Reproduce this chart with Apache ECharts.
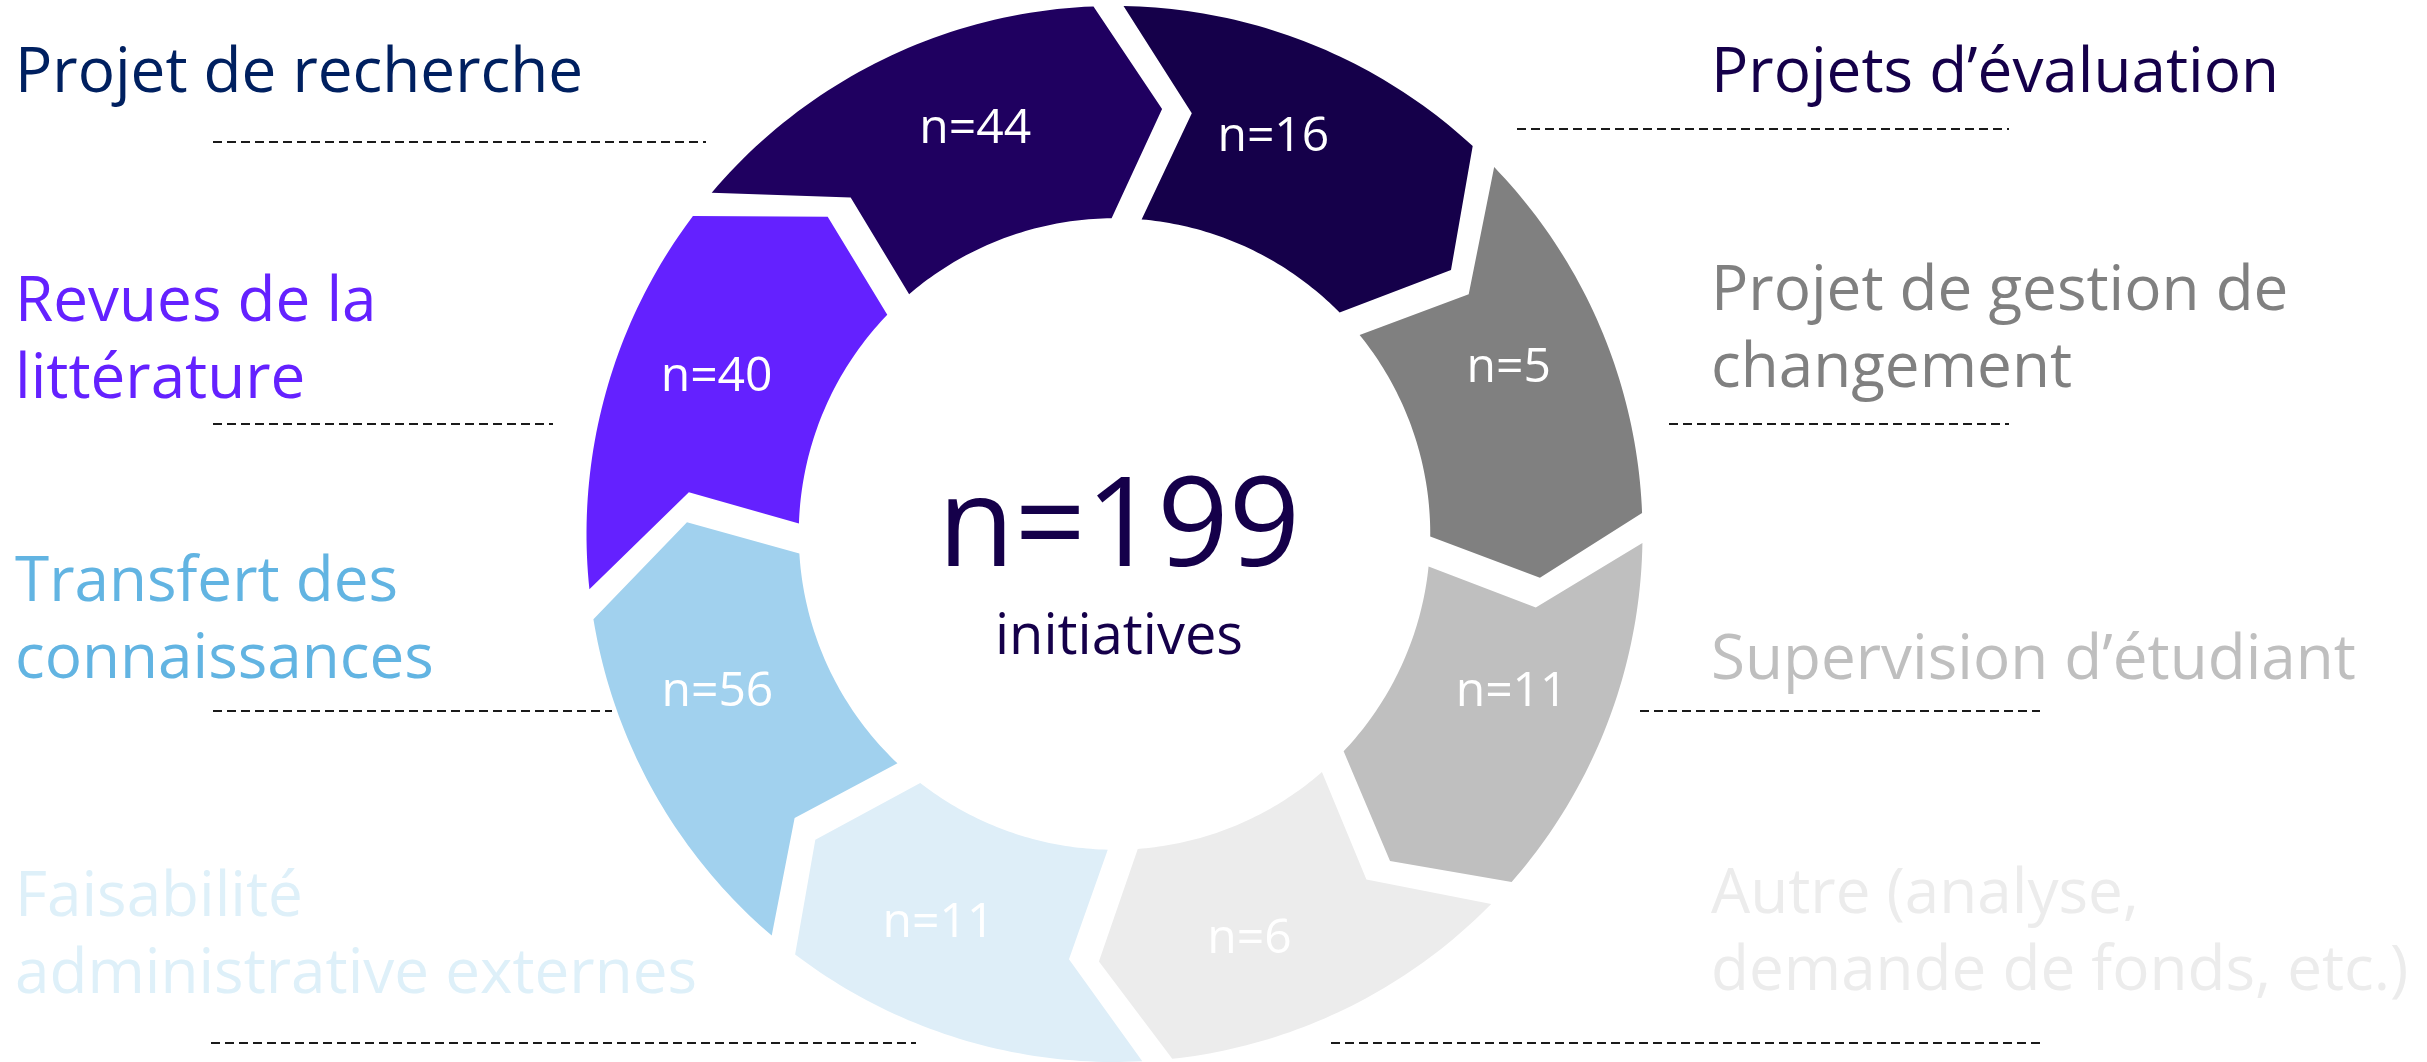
<!DOCTYPE html>
<html>
<head>
<meta charset="utf-8">
<script src="https://cdn.jsdelivr.net/npm/echarts@6/dist/echarts.min.js"></script>
<style>
  html, body { margin: 0; padding: 0; background: #fff; }
  #chart { width: 2427px; height: 1062px; }
</style>
</head>
<body>
<div id="chart"></div>
<script>
// 类别：从顶部开始顺时针
const categories = [
  'Projets d’évaluation',
  'Projet de gestion de\nchangement',
  'Supervision d’étudiant',
  'Autre (analyse,\ndemande de fonds, etc.)',
  'Faisabilité\nadministrative externes',
  'Transfert des\nconnaissances',
  'Revues de la\nlittérature',
  'Projet de recherche',
]
const counts = [16, 5, 11, 6, 11, 56, 40, 44]
const total = 199
const centerCaption = 'initiatives'

// 颜色
const segColors = ['#15004a', '#808080', '#bfbfbf', '#ececec', '#deeef8', '#a1d1ee', '#6421ff', '#1f0060']
const nameColors = ['#15004a', '#808080', '#bfbfbf', '#ececec', '#def0f9', '#62b4e2', '#6421ff', '#002060']

// 两侧文字位置 [x, 中线 y]
const namePos = [
  [1711, 74], [1711, 331], [1711, 661], [1711, 934],
  [15, 937], [15, 622], [15, 342], [15, 74],
]
// 虚线 [x1, x2, y]
const guides = [
  [213, 706, 142], [213, 553, 424], [213, 612, 711], [211, 916, 1043],
  [1517, 2009, 129], [1669, 2009, 424], [1640, 2040, 711], [1331, 2040, 1043],
]
// 每条分界线的旋转（度）：[外圈, 箭头尖, 内圈]
const boundaryRot = [
  [0, 0, -0.5], [0, 0.5, 0.5], [0, -0.5, 0.5], [-1.5, -1.5, -1.5],
  [-4, -4.3, -4.2], [-5.5, -7, -7], [-7, -4.8, -3.5], [-5.7, -3.5, -1],
]
// 段内标签角度（度，顺时针）
const labelAngles = [21.8, 67.2, 111.8, 161.6, 204.3, 248.2, 291.5, 341]

const FONT = '"Open Sans", "Noto Sans", sans-serif'
const R_OUT = 1, R_IN = 0.598, R_MID = 0.81

// 箭头形环段
function renderItem(params, api) {
  const i = params.dataIndex
  const j = (i + 1) % 8
  const hg = (r) => 1.63 / r
  const cOut = -0.65, cMid = 8.4, cIn = 2.7
  const s = i * 45, e = (i + 1) * 45
  const pts = []
  const N = 48
  const a0 = s + boundaryRot[i][0] + cOut + hg(R_OUT)
  const a1 = e + boundaryRot[j][0] + cOut - hg(R_OUT)
  for (let k = 0; k <= N; k++) pts.push(api.coord([R_OUT, a0 + ((a1 - a0) * k) / N]))
  pts.push(api.coord([R_MID, e + boundaryRot[j][1] + cMid - hg(R_MID)]))
  const b1 = e + boundaryRot[j][2] + cIn - hg(R_IN)
  const b0 = s + boundaryRot[i][2] + cIn + hg(R_IN)
  for (let k = 0; k <= N; k++) pts.push(api.coord([R_IN, b1 + ((b0 - b1) * k) / N]))
  pts.push(api.coord([R_MID, s + boundaryRot[i][1] + cMid + hg(R_MID)]))
  const lp = api.coord([0.81, labelAngles[i]])
  return {
    type: 'group',
    children: [
      { type: 'polygon', shape: { points: pts }, style: { fill: segColors[i] } },
      {
        type: 'text',
        style: {
          text: 'n=' + api.value(2),
          x: lp[0],
          y: lp[1],
          fill: '#fff',
          font: '48px ' + FONT,
          align: 'center',
          verticalAlign: 'middle',
        },
      },
    ],
  }
}

const graphics = []
guides.forEach(([x1, x2, y]) => {
  graphics.push({
    type: 'line',
    shape: { x1, y1: y, x2, y2: y },
    style: { stroke: '#1a1a1a', lineWidth: 2, lineDash: [9, 5] },
  })
})
categories.forEach((name, i) => {
  graphics.push({
    type: 'text',
    style: {
      text: name,
      x: namePos[i][0],
      y: namePos[i][1],
      fill: nameColors[i],
      font: '62px ' + FONT,
      lineHeight: 77,
      align: 'left',
      verticalAlign: 'middle',
    },
  })
})
graphics.push({
  type: 'text',
  style: {
    text: 'n=' + total,
    x: 1119,
    y: 530,
    fill: '#15004a',
    font: '125px ' + FONT,
    align: 'center',
    verticalAlign: 'middle',
  },
})
graphics.push({
  type: 'text',
  style: {
    text: centerCaption,
    x: 1119,
    y: 638,
    fill: '#15004a',
    font: '56px ' + FONT,
    align: 'center',
    verticalAlign: 'middle',
  },
})

const chart = echarts.init(document.getElementById('chart'))
chart.setOption({
  animation: false,
  polar: { center: [1114.5, 534], radius: [0, 528] },
  angleAxis: { type: 'value', min: 0, max: 360, startAngle: 90, clockwise: true, show: false },
  radiusAxis: { type: 'value', min: 0, max: 1, show: false },
  graphic: graphics,
  series: [
    {
      type: 'custom',
      coordinateSystem: 'polar',
      renderItem,
      data: counts.map((v, i) => [R_OUT, i * 45 + 22.5, v]),
      z: 5,
    },
  ],
})
</script>
</body>
</html>
